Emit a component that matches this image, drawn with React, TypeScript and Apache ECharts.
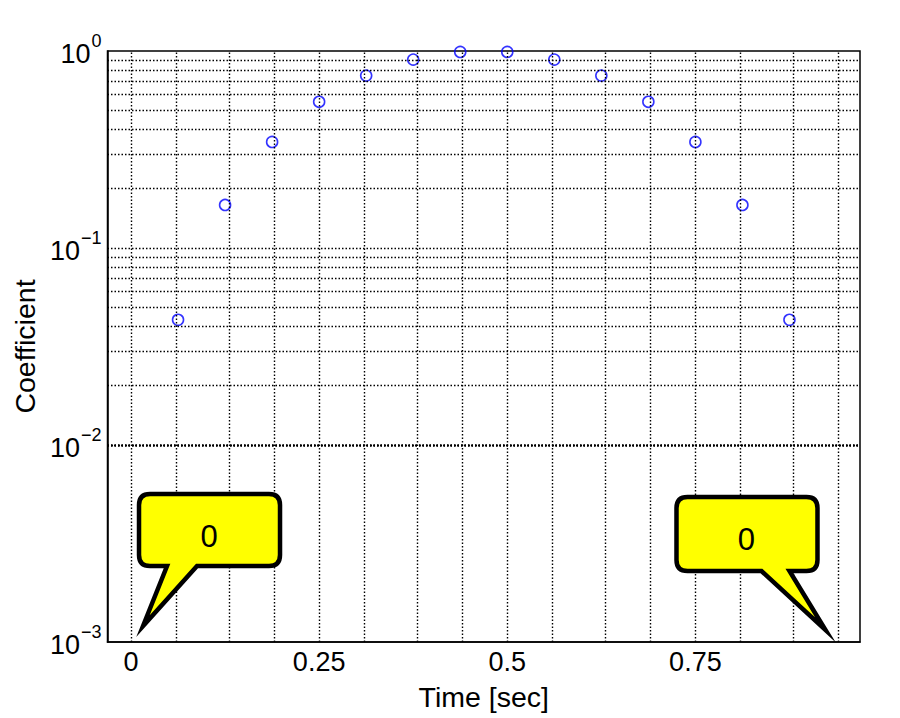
import { useRef, useEffect } from 'react'
import * as echarts from 'echarts'

// sample times (sec) and window coefficients
const sampleTimes = [0.0625, 0.125, 0.1875, 0.25, 0.3125, 0.375, 0.4375, 0.5, 0.5625, 0.625, 0.6875, 0.75, 0.8125, 0.875]
const coefficients = [0.0432, 0.1654, 0.3455, 0.5523, 0.75, 0.9045, 0.9891, 0.9891, 0.9045, 0.75, 0.5523, 0.3455, 0.1654, 0.0432]

// the two zero-valued samples, shown with callouts
const zeroTimes = [0, 0.9375]
const zeroLabels = ['0', '0']

const xTickValues = [0, 0.25, 0.5, 0.75]
const yTickValues = [0.001, 0.01, 0.1, 1]

const xGridTimes = [0, 0.0625, 0.125, 0.1875, 0.25, 0.3125, 0.375, 0.4375, 0.5, 0.5625, 0.625, 0.6875, 0.75, 0.8125, 0.875, 0.9375]
const yGridValues = [
  0.002, 0.003, 0.004, 0.005, 0.006, 0.007, 0.008, 0.009,
  0.01, 0.02, 0.03, 0.04, 0.05, 0.06, 0.07, 0.08, 0.09,
  0.1, 0.2, 0.3, 0.4, 0.5, 0.6, 0.7, 0.8, 0.9,
]

const FONT = "'Liberation Sans', Arial, sans-serif"

// callout outline relative to the anchor point (stroke centre)
const calloutShapes = [
  { l: 8, r: 149, t: -148, b: -76, rad: 11, ta: 36, tb: 66, tipX: 12, tipY: -16, textX: 78, textY: -106 },
  { l: -160, r: -19, t: -145, b: -71, rad: 11, ta: -75, tb: -47, tipX: -11, tipY: -12, textX: -90, textY: -103 },
]

function calloutPath(ax: number, ay: number, s: (typeof calloutShapes)[number]) {
  const L = ax + s.l, R = ax + s.r, T = ay + s.t, B = ay + s.b, r = s.rad
  return [
    `M ${L + r} ${T}`, `L ${R - r} ${T}`, `Q ${R} ${T} ${R} ${T + r}`,
    `L ${R} ${B - r}`, `Q ${R} ${B} ${R - r} ${B}`,
    `L ${ax + s.tb} ${B}`, `L ${ax + s.tipX} ${ay + s.tipY}`, `L ${ax + s.ta} ${B}`,
    `L ${L + r} ${B}`, `Q ${L} ${B} ${L} ${B - r}`,
    `L ${L} ${T + r}`, `Q ${L} ${T} ${L + r} ${T}`, 'Z',
  ].join(' ')
}

export default function App() {
  const containerRef = useRef<HTMLDivElement>(null)

  useEffect(() => {
    const el = containerRef.current
    if (!el) return
    document.body.style.margin = '0'
    const chart = echarts.init(el, null, { renderer: 'svg' })

    const option: echarts.EChartsOption = {
      animation: false,
      backgroundColor: '#fff',
      grid: {
        left: 107.5, right: 40, top: 51, bottom: 76,
        show: true, borderColor: '#000', borderWidth: 1.5, backgroundColor: 'transparent',
      },
      xAxis: {
        type: 'value',
        min: -0.03125,
        max: 0.96875,
        name: 'Time [sec]',
        nameLocation: 'middle',
        nameGap: 40,
        nameTextStyle: { fontFamily: FONT, fontSize: 28.5, color: '#000' },
        axisLine: { show: true, onZero: false, lineStyle: { color: '#000', width: 1.5 } },
        axisTick: { show: false },
        splitLine: { show: false },
        axisLabel: {
          customValues: xTickValues,
          margin: 6,
          fontFamily: FONT,
          fontSize: 27,
          color: '#000',
          formatter: (v: number) => String(v),
        },
      },
      yAxis: {
        type: 'log',
        logBase: 10,
        min: 0.001,
        max: 1,
        name: 'Coefficient',
        nameLocation: 'middle',
        nameGap: 64,
        nameTextStyle: { fontFamily: FONT, fontSize: 28.5, color: '#000' },
        axisLine: { show: true, onZero: false, lineStyle: { color: '#000', width: 1.5 } },
        axisTick: { show: false },
        splitLine: { show: false },
        minorTick: { show: false },
        minorSplitLine: { show: false },
        axisLabel: {
          customValues: yTickValues,
          margin: 6,
          color: '#000',
          formatter: (v: number) => {
            const e = Math.round(Math.log10(v))
            return `{b|10}{s|${e < 0 ? '\u2212' + -e : e}}`
          },
          rich: {
            b: { fontFamily: FONT, fontSize: 27, color: '#000', verticalAlign: 'bottom', lineHeight: 32 },
            s: { fontFamily: FONT, fontSize: 18, color: '#000', verticalAlign: 'bottom', lineHeight: 32, padding: [0, 0, 17, 1] },
          },
        },
      },
      series: [
        {
          type: 'line',
          data: [],
          z: 1,
          silent: true,
          markLine: {
            silent: true,
            symbol: 'none',
            label: { show: false },
            lineStyle: { color: '#000', type: [1.5, 2], width: 1.4 },
            emphasis: { disabled: true },
            data: [
              ...xGridTimes.map((x) => ({ xAxis: x })),
              ...yGridValues.map((y) => ({ yAxis: y })),
            ],
          },
        },
        {
          type: 'scatter',
          z: 3,
          symbol: 'circle',
          symbolSize: 11,
          itemStyle: { color: 'transparent', borderColor: '#0000ff', borderWidth: 1.6 },
          data: sampleTimes.map((t, i) => [t, coefficients[i]]),
        },
        {
          type: 'custom',
          z: 5,
          coordinateSystem: 'cartesian2d',
          data: zeroTimes.map((t) => [t, 0.001]),
          // eslint-disable-next-line @typescript-eslint/no-explicit-any
          renderItem: (params: any, api: any) => {
            const p = api.coord([api.value(0), api.value(1)])
            const s = calloutShapes[params.dataIndex]
            return {
              type: 'group',
              children: [
                {
                  type: 'path',
                  shape: { pathData: calloutPath(p[0], p[1], s) },
                  style: { fill: '#ffff00', stroke: '#000', lineWidth: 4.5, lineJoin: 'miter', miterLimit: 12 },
                },
                {
                  type: 'text',
                  x: p[0] + s.textX,
                  y: p[1] + s.textY,
                  style: {
                    text: zeroLabels[params.dataIndex],
                    fontFamily: FONT,
                    fontSize: 31,
                    fill: '#000',
                    align: 'center',
                    verticalAlign: 'middle',
                  },
                },
              ],
            }
          },
        },
      ],
    }

    chart.setOption(option)
    return () => {
      chart.dispose()
    }
  }, [])

  return (
    <div
      ref={containerRef}
      style={{ position: 'fixed', left: 0, top: 0, width: 900, height: 718 }}
    />
  )
}
